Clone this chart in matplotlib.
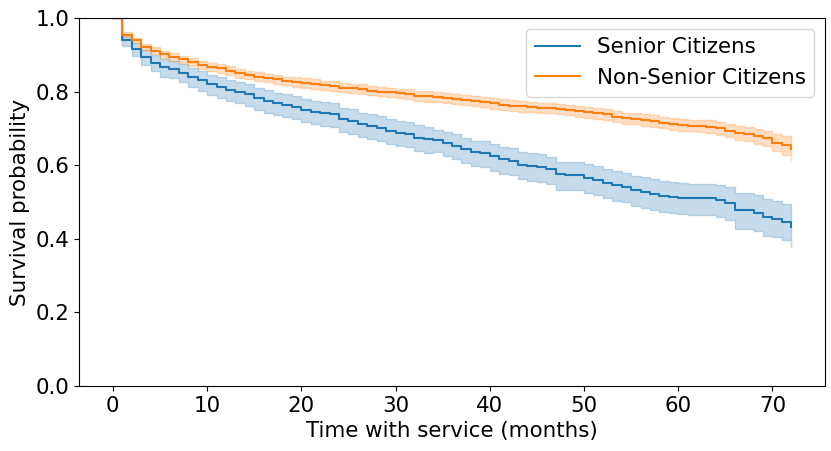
import matplotlib
matplotlib.use("Agg")
import matplotlib.pyplot as plt
import numpy as np

months = list(range(0, 73))

senior_surv = [1.000, 0.940, 0.916, 0.895, 0.879, 0.866, 0.862, 0.851, 0.839, 0.831,
               0.820, 0.813, 0.804, 0.800, 0.793, 0.782, 0.775, 0.768, 0.764, 0.759,
               0.750, 0.745, 0.741, 0.738, 0.725, 0.720, 0.711, 0.707, 0.702, 0.693,
               0.688, 0.685, 0.675, 0.670, 0.668, 0.661, 0.653, 0.643, 0.636, 0.634,
               0.626, 0.616, 0.611, 0.602, 0.599, 0.596, 0.589, 0.575, 0.573, 0.573,
               0.566, 0.560, 0.553, 0.546, 0.542, 0.533, 0.528, 0.522, 0.517, 0.514,
               0.512, 0.510, 0.510, 0.510, 0.505, 0.498, 0.478, 0.478, 0.471, 0.460,
               0.455, 0.446, 0.431]
senior_ci_lower = [1.000, 0.924, 0.896, 0.873, 0.855, 0.841, 0.837, 0.825, 0.812, 0.803,
                   0.791, 0.784, 0.774, 0.770, 0.762, 0.751, 0.743, 0.736, 0.732, 0.726,
                   0.717, 0.712, 0.707, 0.704, 0.691, 0.686, 0.676, 0.672, 0.667, 0.658,
                   0.652, 0.649, 0.639, 0.634, 0.635, 0.625, 0.616, 0.605, 0.598, 0.596,
                   0.585, 0.576, 0.573, 0.562, 0.558, 0.555, 0.548, 0.534, 0.532, 0.532,
                   0.524, 0.518, 0.511, 0.503, 0.499, 0.490, 0.484, 0.478, 0.473, 0.470,
                   0.467, 0.465, 0.465, 0.465, 0.459, 0.451, 0.428, 0.428, 0.420, 0.408,
                   0.404, 0.398, 0.379]
senior_ci_upper = [1.000, 0.953, 0.933, 0.914, 0.900, 0.888, 0.884, 0.874, 0.863, 0.856,
                   0.846, 0.839, 0.831, 0.827, 0.821, 0.810, 0.804, 0.797, 0.793, 0.789,
                   0.780, 0.775, 0.771, 0.768, 0.756, 0.752, 0.743, 0.739, 0.734, 0.726,
                   0.721, 0.718, 0.709, 0.704, 0.697, 0.691, 0.684, 0.673, 0.667, 0.667,
                   0.658, 0.650, 0.646, 0.635, 0.632, 0.630, 0.623, 0.610, 0.608, 0.608,
                   0.603, 0.597, 0.591, 0.584, 0.580, 0.572, 0.567, 0.562, 0.557, 0.554,
                   0.552, 0.550, 0.550, 0.550, 0.546, 0.540, 0.525, 0.525, 0.519, 0.509,
                   0.503, 0.494, 0.494]

nonsenior_surv = [1.000, 0.955, 0.939, 0.921, 0.911, 0.901, 0.894, 0.888, 0.881, 0.872,
                  0.868, 0.863, 0.857, 0.850, 0.845, 0.841, 0.837, 0.833, 0.829, 0.826,
                  0.824, 0.820, 0.817, 0.815, 0.811, 0.809, 0.807, 0.803, 0.800, 0.798,
                  0.795, 0.793, 0.789, 0.787, 0.786, 0.783, 0.780, 0.777, 0.774, 0.771,
                  0.768, 0.765, 0.762, 0.760, 0.758, 0.756, 0.755, 0.752, 0.750, 0.747,
                  0.744, 0.741, 0.738, 0.732, 0.728, 0.726, 0.723, 0.720, 0.716, 0.712,
                  0.710, 0.708, 0.707, 0.705, 0.700, 0.694, 0.688, 0.685, 0.679, 0.673,
                  0.661, 0.654, 0.643]
nonsenior_ci_lower = [1.000, 0.949, 0.932, 0.913, 0.902, 0.892, 0.884, 0.878, 0.871, 0.861,
                      0.857, 0.852, 0.845, 0.838, 0.833, 0.829, 0.825, 0.821, 0.817, 0.813,
                      0.811, 0.807, 0.804, 0.802, 0.798, 0.796, 0.794, 0.790, 0.787, 0.785,
                      0.782, 0.780, 0.775, 0.773, 0.772, 0.769, 0.766, 0.763, 0.760, 0.757,
                      0.754, 0.751, 0.748, 0.746, 0.744, 0.742, 0.741, 0.738, 0.736, 0.732,
                      0.729, 0.726, 0.723, 0.717, 0.713, 0.711, 0.708, 0.704, 0.700, 0.696,
                      0.694, 0.692, 0.690, 0.688, 0.682, 0.676, 0.669, 0.666, 0.659, 0.652,
                      0.638, 0.629, 0.615]
nonsenior_ci_upper = [1.000, 0.961, 0.946, 0.929, 0.920, 0.910, 0.904, 0.898, 0.891, 0.883,
                      0.879, 0.874, 0.869, 0.862, 0.857, 0.853, 0.849, 0.845, 0.841, 0.839,
                      0.837, 0.833, 0.830, 0.828, 0.824, 0.822, 0.820, 0.816, 0.813, 0.811,
                      0.808, 0.806, 0.803, 0.801, 0.800, 0.797, 0.794, 0.791, 0.788, 0.785,
                      0.782, 0.779, 0.776, 0.774, 0.772, 0.770, 0.769, 0.766, 0.764, 0.762,
                      0.759, 0.756, 0.753, 0.747, 0.743, 0.741, 0.738, 0.736, 0.732, 0.728,
                      0.726, 0.724, 0.724, 0.722, 0.718, 0.712, 0.707, 0.704, 0.699, 0.694,
                      0.684, 0.679, 0.671]

series = [
    ("Senior Citizens", senior_surv, senior_ci_lower, senior_ci_upper, "#1f77b4"),
    ("Non-Senior Citizens", nonsenior_surv, nonsenior_ci_lower, nonsenior_ci_upper, "#ff7f0e"),
]

FS = 15.4
plt.rcParams['font.family'] = ['DejaVu Sans']
fig = plt.figure(figsize=(8.31, 4.51), dpi=100)
ax = fig.add_axes([0.095, 0.144, 0.898, 0.816])

for label, surv, lo, hi, color in series:
    ax.step(months, surv, where="post", color=color, lw=1.5, label=label)
    ax.fill_between(months, lo, hi, step="post", color=color, alpha=0.25, lw=1)

ax.set_xlim(-3.6, 75.6)
ax.set_ylim(0, 1.0)
ax.set_xticks([0, 10, 20, 30, 40, 50, 60, 70])
ax.set_yticks([0.0, 0.2, 0.4, 0.6, 0.8, 1.0])
ax.tick_params(labelsize=FS)
ax.set_xlabel("Time with service (months)", fontsize=FS)
ax.set_ylabel("Survival probability", fontsize=FS)
ax.legend(loc="upper right", fontsize=FS, handlelength=2.1)

fig.savefig("out.png", dpi=100)
